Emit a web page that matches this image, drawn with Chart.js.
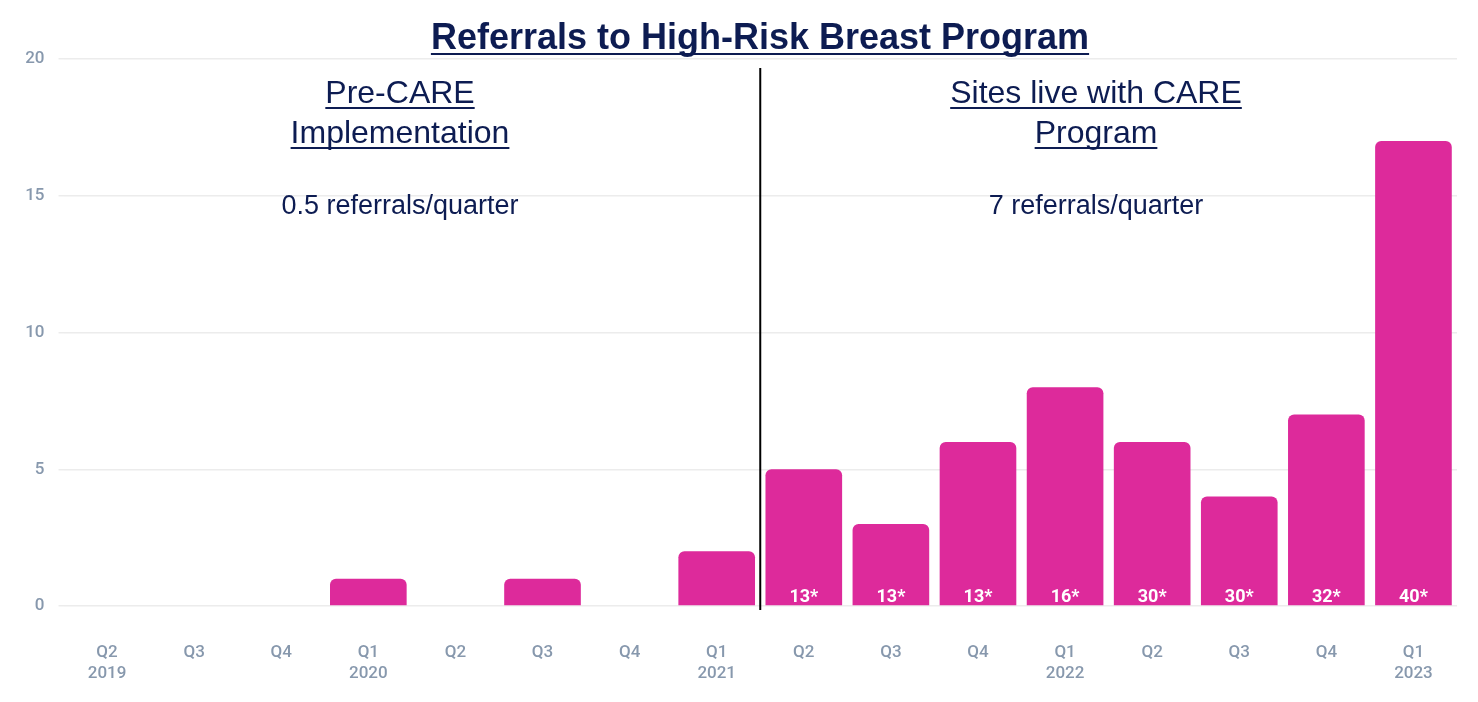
<!DOCTYPE html>
<html lang="en">
<head>
    <meta charset="UTF-8">
    <title>Referrals to High-Risk Breast Program</title>
    <script src="https://cdn.jsdelivr.net/npm/chart.js"></script>
    <style>
        html, body { margin: 0; padding: 0; background: #fff; }
        #wrap { width: 1478px; height: 702px; }
    </style>
</head>
<body>
    <div id="wrap"><canvas id="referralChart"></canvas></div>
    <script>
        // chart data
        const quarters = ['Q2', 'Q3', 'Q4', 'Q1', 'Q2', 'Q3', 'Q4', 'Q1', 'Q2', 'Q3', 'Q4', 'Q1', 'Q2', 'Q3', 'Q4', 'Q1'];
        const years = ['2019', '', '', '2020', '', '', '', '2021', '', '', '', '2022', '', '', '', '2023'];
        const referrals = [0, 0, 0, 1, 0, 1, 0, 2, 5, 3, 6, 8, 6, 4, 7, 17];
        const siteCounts = [null, null, null, null, null, null, null, null, 13, 13, 13, 16, 30, 30, 32, 40];
        const yTicks = [0, 5, 10, 15, 20];

        const navy = '#0d1c52';
        const labels = quarters.map((q, i) => years[i] ? [q, years[i]] : q);

        function underlined(ctx, text, x, y) {
            ctx.fillText(text, x, y);
            const w = ctx.measureText(text).width;
            ctx.fillRect(x - w / 2, y + 4, w, 2);
        }

        // title, notes, divider and the white counts inside bars
        const overlay = {
            id: 'overlay',
            afterDatasetsDraw(chart) {
                const ctx = chart.ctx;
                const x = chart.scales.x;
                const area = chart.chartArea;
                ctx.save();

                // divider between Q1 2021 and Q2 2021
                const divX = (x.getPixelForValue(7) + x.getPixelForValue(8)) / 2;
                ctx.strokeStyle = '#000';
                ctx.lineWidth = 2;
                ctx.beginPath();
                ctx.moveTo(divX, area.top + 9);
                ctx.lineTo(divX, area.bottom + 4);
                ctx.stroke();

                // counts in bars
                const meta = chart.getDatasetMeta(0);
                ctx.fillStyle = '#fff';
                ctx.font = 'bold 18px Roboto, "Liberation Sans", sans-serif';
                ctx.textAlign = 'center';
                ctx.textBaseline = 'alphabetic';
                siteCounts.forEach((c, i) => {
                    if (c === null) return;
                    ctx.fillText(c + '*', meta.data[i].x, area.bottom - 4);
                });

                // title
                ctx.fillStyle = navy;
                ctx.font = 'bold 36px "Liberation Sans", Arial, sans-serif';
                underlined(ctx, 'Referrals to High-Risk Breast Program', 760, 49);

                // period notes
                ctx.font = '32px "Liberation Sans", Arial, sans-serif';
                underlined(ctx, 'Pre-CARE', 400, 103);
                underlined(ctx, 'Implementation', 400, 143);
                underlined(ctx, 'Sites live with CARE', 1096, 103);
                underlined(ctx, 'Program', 1096, 143);
                ctx.font = '27px "Liberation Sans", Arial, sans-serif';
                ctx.fillText('0.5 referrals/quarter', 400, 214);
                ctx.fillText('7 referrals/quarter', 1096, 214);

                ctx.restore();
            }
        };

        const tickFont = { family: 'Roboto, sans-serif', size: 17, weight: '500', lineHeight: 1.25 };
        const tickColor = '#8798ad';

        new Chart(document.getElementById('referralChart'), {
            type: 'bar',
            data: {
                labels: labels,
                datasets: [{
                    data: referrals,
                    backgroundColor: '#dd2a9b',
                    borderRadius: { topLeft: 6, topRight: 6 },
                    borderSkipped: 'start',
                    barPercentage: 0.88,
                    categoryPercentage: 1.0
                }]
            },
            options: {
                responsive: true,
                maintainAspectRatio: false,
                animation: false,
                layout: { padding: { top: 59, right: 21, left: 0, bottom: 0 } },
                plugins: {
                    legend: { display: false },
                    title: { display: false },
                    tooltip: { enabled: false }
                },
                scales: {
                    x: {
                        grid: { display: false },
                        border: { display: false },
                        ticks: {
                            color: tickColor,
                            font: tickFont,
                            padding: 28,
                            maxRotation: 0,
                            autoSkip: false
                        },
                        afterFit(scale) { scale.height = 96; }
                    },
                    y: {
                        min: 0,
                        max: 20,
                        afterBuildTicks(scale) { scale.ticks = yTicks.map(v => ({ value: v })); },
                        grid: { color: '#ececec', lineWidth: 1.5, tickLength: 5 },
                        border: { display: false },
                        ticks: {
                            color: tickColor,
                            font: tickFont,
                            padding: 14
                        },
                        afterFit(scale) { scale.width = 63.5; }
                    }
                }
            },
            plugins: [overlay]
        });
    </script>
</body>
</html>
